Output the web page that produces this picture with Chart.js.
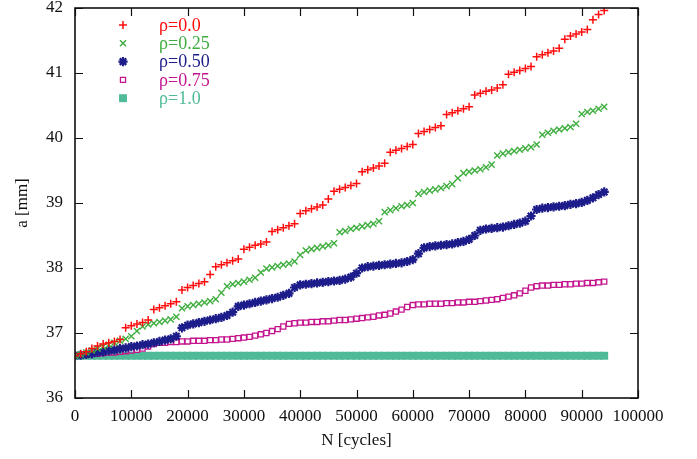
<!DOCTYPE html>
<html>
<head>
<meta charset="utf-8">
<script src="https://cdn.jsdelivr.net/npm/chart.js@4.4.1/dist/chart.umd.min.js"></script>
<style>
  html, body { margin: 0; padding: 0; background: #ffffff; }
  #crackChart { display: block; }
</style>
</head>
<body>
<canvas id="crackChart" width="697" height="459"></canvas>
<script>
"use strict";

// N [cycles]
var cycles = [
  0, 1000, 2000, 3000, 4000, 5000, 6000, 7000, 8000, 9000,
  10000, 11000, 12000, 13000, 14000, 15000, 16000, 17000, 18000, 19000,
  20000, 21000, 22000, 23000, 24000, 25000, 26000, 27000, 28000, 29000,
  30000, 31000, 32000, 33000, 34000, 35000, 36000, 37000, 38000, 39000,
  40000, 41000, 42000, 43000, 44000, 45000, 46000, 47000, 48000, 49000,
  50000, 51000, 52000, 53000, 54000, 55000, 56000, 57000, 58000, 59000,
  60000, 61000, 62000, 63000, 64000, 65000, 66000, 67000, 68000, 69000,
  70000, 71000, 72000, 73000, 74000, 75000, 76000, 77000, 78000, 79000,
  80000, 81000, 82000, 83000, 84000, 85000, 86000, 87000, 88000, 89000,
  90000, 91000, 92000, 93000, 94000
];

// a [mm] for each rho
var rho00 = [
  36.65, 36.68, 36.71, 36.76, 36.80, 36.83, 36.85, 36.87, 36.90, 37.08,
  37.11, 37.14, 37.16, 37.20, 37.36, 37.39, 37.42, 37.45, 37.48, 37.66,
  37.70, 37.73, 37.76, 37.79, 37.90, 38.02, 38.05, 38.08, 38.11, 38.14,
  38.29, 38.32, 38.35, 38.37, 38.40, 38.56, 38.59, 38.62, 38.65, 38.68,
  38.84, 38.88, 38.91, 38.94, 38.97, 39.06, 39.18, 39.21, 39.24, 39.27,
  39.30, 39.48, 39.51, 39.54, 39.57, 39.61, 39.78, 39.81, 39.84, 39.87,
  39.90, 40.07, 40.10, 40.13, 40.16, 40.19, 40.36, 40.39, 40.42, 40.45,
  40.48, 40.66, 40.69, 40.72, 40.74, 40.77, 40.82, 40.98, 41.01, 41.04,
  41.07, 41.10, 41.25, 41.28, 41.31, 41.34, 41.38, 41.52, 41.57, 41.60,
  41.63, 41.67, 41.82, 41.90, 41.96
];
var rho025 = [
  36.65, 36.67, 36.70, 36.73, 36.76, 36.79, 36.82, 36.85, 36.88, 36.91,
  36.95, 37.03, 37.10, 37.13, 37.15, 37.17, 37.19, 37.21, 37.25, 37.38,
  37.41, 37.43, 37.45, 37.47, 37.49, 37.52, 37.62, 37.72, 37.75, 37.77,
  37.79, 37.82, 37.85, 37.93, 37.99, 38.01, 38.03, 38.05, 38.07, 38.10,
  38.20, 38.27, 38.29, 38.31, 38.33, 38.35, 38.38, 38.55, 38.57, 38.60,
  38.62, 38.64, 38.66, 38.68, 38.72, 38.86, 38.89, 38.92, 38.95, 38.97,
  39.00, 39.14, 39.17, 39.19, 39.21, 39.23, 39.26, 39.29, 39.38, 39.46,
  39.48, 39.50, 39.52, 39.55, 39.59, 39.73, 39.76, 39.78, 39.80, 39.82,
  39.84, 39.86, 39.90, 40.05, 40.08, 40.11, 40.13, 40.15, 40.17, 40.22,
  40.37, 40.40, 40.42, 40.45, 40.48
];
var rho050 = [
  36.65, 36.66, 36.67, 36.68, 36.70, 36.71, 36.73, 36.74, 36.76, 36.77,
  36.79, 36.80, 36.82, 36.83, 36.85, 36.87, 36.89, 36.91, 36.95, 37.08,
  37.12, 37.14, 37.16, 37.18, 37.20, 37.22, 37.24, 37.27, 37.32, 37.41,
  37.43, 37.45, 37.47, 37.49, 37.51, 37.53, 37.55, 37.58, 37.61, 37.70,
  37.74, 37.75, 37.76, 37.77, 37.78, 37.79, 37.80, 37.81, 37.83, 37.86,
  37.92, 38.00, 38.02, 38.03, 38.04, 38.05, 38.06, 38.07, 38.08, 38.10,
  38.13, 38.22, 38.31, 38.33, 38.34, 38.35, 38.36, 38.37, 38.39, 38.41,
  38.44, 38.50, 38.58, 38.60, 38.61, 38.62, 38.63, 38.65, 38.67, 38.69,
  38.72, 38.80, 38.90, 38.92, 38.93, 38.94, 38.95, 38.96, 38.98, 38.99,
  39.01, 39.04, 39.08, 39.13, 39.17
];
var rho075 = [
  36.65, 36.66, 36.67, 36.68, 36.68, 36.69, 36.70, 36.70, 36.71, 36.72,
  36.73, 36.74, 36.76, 36.79, 36.83, 36.85, 36.85, 36.86, 36.86, 36.87,
  36.87, 36.88, 36.88, 36.88, 36.89, 36.89, 36.90, 36.90, 36.91, 36.92,
  36.93, 36.94, 36.96, 36.98, 37.00, 37.03, 37.06, 37.10, 37.14, 37.15,
  37.16, 37.16, 37.17, 37.17, 37.18, 37.18, 37.19, 37.20, 37.20, 37.21,
  37.22, 37.23, 37.24, 37.25, 37.27, 37.28, 37.30, 37.33, 37.36, 37.40,
  37.43, 37.44, 37.44, 37.45, 37.45, 37.45, 37.46, 37.46, 37.47, 37.47,
  37.48, 37.48, 37.49, 37.50, 37.51, 37.52, 37.54, 37.56, 37.58, 37.61,
  37.65, 37.70, 37.72, 37.73, 37.73, 37.74, 37.74, 37.75, 37.75, 37.76,
  37.76, 37.77, 37.77, 37.78, 37.79
];
var rho100 = [
  36.65, 36.65, 36.65, 36.65, 36.65, 36.65, 36.65, 36.65, 36.65, 36.65,
  36.65, 36.65, 36.65, 36.65, 36.65, 36.65, 36.65, 36.65, 36.65, 36.65,
  36.65, 36.65, 36.65, 36.65, 36.65, 36.65, 36.65, 36.65, 36.65, 36.65,
  36.65, 36.65, 36.65, 36.65, 36.65, 36.65, 36.65, 36.65, 36.65, 36.65,
  36.65, 36.65, 36.65, 36.65, 36.65, 36.65, 36.65, 36.65, 36.65, 36.65,
  36.65, 36.65, 36.65, 36.65, 36.65, 36.65, 36.65, 36.65, 36.65, 36.65,
  36.65, 36.65, 36.65, 36.65, 36.65, 36.65, 36.65, 36.65, 36.65, 36.65,
  36.65, 36.65, 36.65, 36.65, 36.65, 36.65, 36.65, 36.65, 36.65, 36.65,
  36.65, 36.65, 36.65, 36.65, 36.65, 36.65, 36.65, 36.65, 36.65, 36.65,
  36.65, 36.65, 36.65, 36.65, 36.65
];

var seriesLabels = ['ρ=0.0', 'ρ=0.25', 'ρ=0.50', 'ρ=0.75', 'ρ=1.0'];
var xTicks = [0, 10000, 20000, 30000, 40000, 50000, 60000, 70000, 80000, 90000, 100000];
var yTicks = [36, 37, 38, 39, 40, 41, 42];

var COLORS = {
  'rho00': '#ff0d0d',
  'rho025': '#3fae3f',
  'rho050': '#1c1c8a',
  'rho075': '#c4158f',
  'rho100': '#4fba97'
};
var FONT = "'Liberation Serif', 'DejaVu Serif', serif";

var toPoints = function (ys) {
  var pts = [];
  for (let i = 0; i < cycles.length; i++) {
    pts.push({ x: cycles[i], y: ys[i] });
  }
  return pts;
};

var makeSet = function (label, ys, color, style, radius, width, filled) {
  return {
    label: label,
    data: toPoints(ys),
    showLine: false,
    borderColor: color,
    backgroundColor: filled ? color : 'rgba(0,0,0,0)',
    pointStyle: style,
    pointRadius: radius,
    pointHoverRadius: radius,
    pointBorderWidth: width,
    pointBorderColor: color,
    pointBackgroundColor: filled ? color : 'rgba(0,0,0,0)'
  };
};

// gnuplot style frame: box + inward ticks on all four sides
var framePlugin = {
  id: 'frame',
  afterDatasetsDraw: function (chart) {
    var ctx = chart.ctx;
    var a = chart.chartArea;
    var xs = chart.scales.x;
    var ys = chart.scales.y;
    var len = 8;
    ctx.save();
    ctx.strokeStyle = '#111111';
    ctx.lineWidth = 1.6;
    ctx.strokeRect(a.left, a.top, a.right - a.left, a.bottom - a.top);
    ctx.lineWidth = 1.2;
    ctx.beginPath();
    xTicks.forEach(function (v) {
      var px = Math.round(xs.getPixelForValue(v)) + 0.5;
      ctx.moveTo(px, a.bottom); ctx.lineTo(px, a.bottom - len);
      ctx.moveTo(px, a.top); ctx.lineTo(px, a.top + len);
    });
    yTicks.forEach(function (v) {
      var py = Math.round(ys.getPixelForValue(v)) + 0.5;
      ctx.moveTo(a.left, py); ctx.lineTo(a.left + len, py);
      ctx.moveTo(a.right, py); ctx.lineTo(a.right - len, py);
    });
    ctx.stroke();
    ctx.restore();
  }
};

// legend drawn inside the plot, top left
var keyPlugin = {
  id: 'key',
  afterDraw: function (chart) {
    var ctx = chart.ctx;
    var markX = 123, textX = 159, rowY = 25, step = 18.3;
    ctx.save();
    ctx.font = '18px ' + FONT;
    ctx.textBaseline = 'middle';
    ctx.textAlign = 'left';
    chart.data.datasets.forEach(function (ds, i) {
      var y = rowY + i * step;
      ctx.strokeStyle = ds.pointBorderColor;
      ctx.fillStyle = ds.pointBackgroundColor;
      ctx.lineWidth = ds.pointBorderWidth;
      if (Chart.helpers && Chart.helpers.drawPoint) {
        Chart.helpers.drawPoint(ctx, {
          pointStyle: ds.pointStyle,
          radius: ds.pointRadius,
          rotation: 0,
          borderWidth: ds.pointBorderWidth
        }, markX, y);
      }
      ctx.fillStyle = ds.pointBorderColor;
      ctx.fillText(ds.label, textX, y + 1);
    });
    ctx.restore();
  }
};

var load_crack_chart = function () {
  var el = document.getElementById('crackChart').getContext('2d');
  var chartData = {
    datasets: [
      makeSet(seriesLabels[0], rho00, COLORS.rho00, 'cross', 4, 1.5, false),
      makeSet(seriesLabels[1], rho025, COLORS.rho025, 'crossRot', 4.3, 1.4, false),
      makeSet(seriesLabels[2], rho050, COLORS.rho050, 'star', 4.6, 2.2, false),
      makeSet(seriesLabels[3], rho075, COLORS.rho075, 'rect', 3.6, 1.3, false),
      makeSet(seriesLabels[4], rho100, COLORS.rho100, 'rect', 5.6, 0, true)
    ]
  };
  var config = {
    type: 'scatter',
    data: chartData,
    options: {
      responsive: false,
      animation: false,
      devicePixelRatio: 1,
      layout: { padding: { left: 0, right: 59, top: 8, bottom: 0 } },
      plugins: {
        legend: { display: false },
        tooltip: { enabled: false }
      },
      scales: {
        x: {
          type: 'linear',
          min: 0,
          max: 100000,
          afterFit: function (scale) { scale.height = 61; },
          afterBuildTicks: function (scale) {
            scale.ticks = xTicks.map(function (v) { return { value: v }; });
          },
          grid: { display: false, drawTicks: false },
          border: { display: false },
          ticks: {
            color: '#111111',
            padding: 8,
            maxRotation: 0,
            autoSkip: false,
            font: { family: FONT, size: 17 },
            callback: function (v) { return String(v); }
          },
          title: {
            display: true,
            text: 'N [cycles]',
            color: '#111111',
            font: { family: FONT, size: 17 },
            padding: { top: 0, bottom: 8 }
          }
        },
        y: {
          type: 'linear',
          min: 36,
          max: 42,
          afterFit: function (scale) {
            scale.width = 75;
            scale.paddingTop = 0;
            scale.paddingBottom = 0;
          },
          afterBuildTicks: function (scale) {
            scale.ticks = yTicks.map(function (v) { return { value: v }; });
          },
          grid: { display: false, drawTicks: false },
          border: { display: false },
          ticks: {
            color: '#111111',
            padding: 12,
            font: { family: FONT, size: 17 },
            callback: function (v) { return String(v); }
          },
          title: {
            display: true,
            text: 'a [mm]',
            color: '#111111',
            font: { family: FONT, size: 17 },
            padding: { top: 12, bottom: 0 }
          }
        }
      }
    },
    plugins: [framePlugin, keyPlugin]
  };
  return new Chart(el, config);
};

load_crack_chart();
</script>
</body>
</html>
